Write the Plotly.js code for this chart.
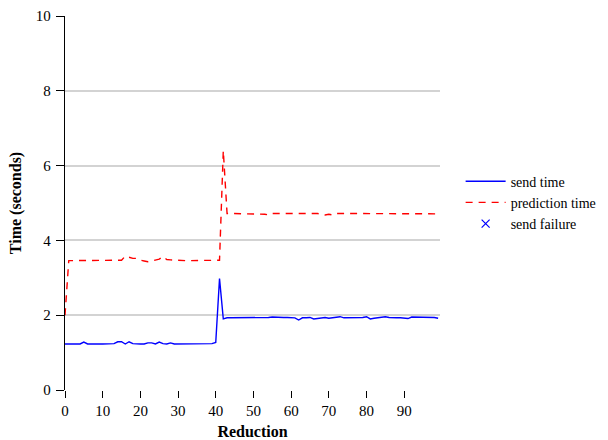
<!DOCTYPE html>
<html><head><meta charset="utf-8">
<script src="https://cdn.plot.ly/plotly-3.0.1.min.js"></script>
<style>html,body{margin:0;padding:0;background:#fff}</style>
</head><body><div id="chart" style="width:608px;height:440px"></div>
<script>
const reduction = Array.from({length:100},(_,i)=>i);
const sendTime = [
1.23,1.23,1.23,1.23,1.23,1.28,1.23,1.23,1.22,1.23,
1.23,1.23,1.24,1.24,1.29,1.29,1.23,1.29,1.24,1.23,
1.23,1.23,1.26,1.26,1.23,1.28,1.24,1.23,1.26,1.23,
1.23,1.23,1.23,1.23,1.24,1.23,1.24,1.24,1.25,1.24,
1.27,2.98,1.90,1.93,1.93,1.93,1.92,1.94,1.94,1.93,
1.92,1.92,1.93,1.94,1.94,1.95,1.94,1.95,1.94,1.94,
1.93,1.93,1.87,1.93,1.93,1.94,1.90,1.92,1.92,1.94,
1.92,1.93,1.93,1.96,1.93,1.93,1.94,1.94,1.94,1.94,
1.96,1.90,1.92,1.93,1.94,1.96,1.94,1.93,1.93,1.93,
1.93,1.91,1.95,1.95,1.93,1.93,1.93,1.94,1.94,1.92
];
const predTime = [
2.00,3.46,3.46,3.46,3.46,3.47,3.47,3.46,3.46,3.46,
3.46,3.46,3.46,3.46,3.47,3.47,3.58,3.55,3.52,3.52,
3.47,3.45,3.43,3.45,3.47,3.50,3.57,3.49,3.48,3.47,
3.47,3.46,3.46,3.46,3.46,3.46,3.46,3.46,3.47,3.47,
3.47,3.47,6.40,4.72,4.72,4.72,4.72,4.72,4.72,4.72,
4.72,4.72,4.72,4.70,4.68,4.72,4.72,4.72,4.73,4.73,
4.73,4.73,4.73,4.73,4.73,4.73,4.72,4.72,4.70,4.68,
4.70,4.68,4.72,4.72,4.72,4.72,4.72,4.72,4.72,4.72,
4.72,4.72,4.72,4.72,4.72,4.72,4.72,4.72,4.72,4.72,
4.72,4.72,4.72,4.72,4.72,4.72,4.71,4.71,4.71,4.71
];
const failX = [];
const failY = [];
const seriesNames = ["send time","prediction time","send failure"];

const FAM = '"Liberation Serif", "Times New Roman", serif';
const data = [
  {x: reduction, y: sendTime, name: seriesNames[0], type:'scatter', mode:'lines',
   line:{color:'#0000ff', width:1.4}},
  {x: reduction, y: predTime, name: seriesNames[1], type:'scatter', mode:'lines',
   line:{color:'#ff0000', width:1.4, dash:'7px,6px'}},
  {x: failX.length?failX:[null], y: failY.length?failY:[null], name: seriesNames[2], type:'scatter', mode:'markers',
   marker:{color:'#0000ff', symbol:'x-thin-open', size:8, line:{width:1.2, color:'#0000ff'}}}
];
const layout = {
  width:608, height:440,
  margin:{l:65, r:168, t:16, b:50, autoexpand:false},
  paper_bgcolor:'#fff', plot_bgcolor:'#fff',
  font:{family:FAM, size:15, color:'#000'},
  showlegend:true,
  legend:{x:1.055, y:0.60, xanchor:'left', yanchor:'top', font:{family:FAM, size:14, color:'#000'}, tracegroupgap:0, itemwidth:40},
  xaxis:{range:[0,99.5], tickvals:[0,10,20,30,40,50,60,70,80,90], ticks:'outside', ticklen:7, tickcolor:'#000',
    tickfont:{family:FAM, size:15, color:'#000'},
    showgrid:false, zeroline:false, showline:false,
    title:{text:'<b>Reduction</b>', font:{family:FAM, size:16}, standoff:7}},
  yaxis:{range:[0,10], tickvals:[0,2,4,6,8,10], ticks:'outside', ticklen:8, tickcolor:'#000',
    tickfont:{family:FAM, size:15, color:'#000'}, ticklabelstandoff:2,
    showgrid:true, gridcolor:'#d3d3d3', gridwidth:1.5, zeroline:false, showline:true, linecolor:'#000', linewidth:1.3,
    title:{text:'<b>Time (seconds)</b>', font:{family:FAM, size:16}, standoff:10}}
};
Plotly.newPlot('chart', data, layout, {displayModeBar:false});
</script></body></html>
